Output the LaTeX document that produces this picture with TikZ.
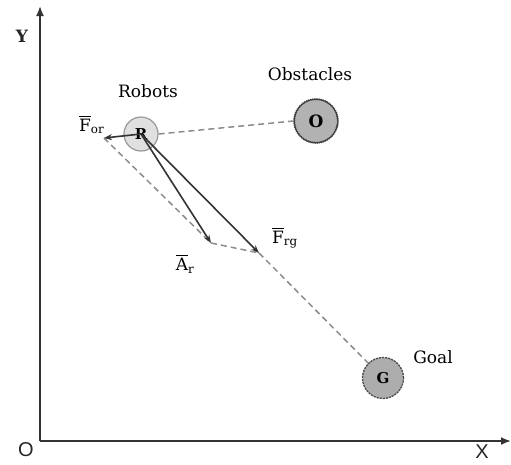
\documentclass[tikz,border=0pt]{standalone}
\usepackage{fontspec}
\usepackage{amsmath}
\setmainfont{DejaVu Serif}
\newfontfamily\axisfont{Liberation Sans}
\usetikzlibrary{arrows.meta,decorations.pathmorphing}
\begin{document}
\begin{tikzpicture}[x=1pt,y=-1pt,
  axis/.style={line width=1.8pt,draw=black!80,-{Latex[length=10pt,width=8pt]}},
  force/.style={line width=1.6pt,draw=black!80,-{Stealth[length=8pt,width=6pt]}},
  guide/.style={line width=1.5pt,draw=black!45,dash pattern=on 6pt off 4pt},
  lbl/.style={font=\fontsize{17}{19}\selectfont,inner sep=0pt,text=black},
  axlbl/.style={font=\axisfont\fontsize{20}{22}\selectfont,inner sep=0pt,text=black!85},
  robot/.style={circle,minimum size=34pt,inner sep=0pt,fill=black!12,draw=black!40,line width=1.2pt,font=\bfseries\fontsize{15}{16}\selectfont},
  obst/.style={circle,minimum size=44pt,inner sep=0pt,fill=black!30,draw=black!75,line width=1.3pt,font=\bfseries\fontsize{17}{18}\selectfont,
     decorate,decoration={bumps,segment length=4.2pt,amplitude=0.6pt}},
  goalc/.style={circle,minimum size=41pt,inner sep=0pt,fill=black!32,draw=black!70,line width=1.3pt,dash pattern=on 2.2pt off 0.9pt,font=\bfseries\fontsize{15}{16}\selectfont}
]
\useasboundingbox (0,0) rectangle (511,464);
% axes
\coordinate (org) at (40,441);
\coordinate (ytip) at (40,6);
\coordinate (xtip) at (511,441);
\draw[axis] (org) -- (ytip);
\draw[axis] (org) -- (xtip);
\node[axlbl,font=\bfseries\fontsize{17}{19}\selectfont] (ylab) at (22,36) {Y};
\node[axlbl] (olab) at (26,450) {O};
\node[axlbl] (xlab) at (482,452) {X};
% objects
\node[robot] (R) at (141,134) {R};
\node[obst] (O) at (316,121) {O};
\node[goalc] (G) at (383,378) {G};
\node[lbl] (robots) at (148,91) {Robots};
\node[lbl] (obstacles) at (310,74) {Obstacles};
\node[lbl] (goal) at (433,357) {Goal};
% force tips
\coordinate (for) at (104,138);
\coordinate (ar) at (211,243);
\coordinate (frg) at (259,253);
% guides
\draw[guide] (R.east) -- (O.west);
\draw[guide] (for) -- (ar) -- (frg);
\draw[guide] (frg) -- (G);
% forces
\draw[force] (R.center) -- (for);
\draw[force] (R.center) -- (ar);
\draw[force] (R.center) -- (frg);
% labels
\node[lbl,anchor=south west] (lfor) at (79,134) {$\overline{\text{F}}_{\text{or}}$};
\node[lbl] (lar) at (185,264) {$\overline{\text{A}}_{\text{r}}$};
\node[lbl] (lfrg) at (285,238) {$\overline{\text{F}}_{\text{rg}}$};
\end{tikzpicture}
\end{document}
